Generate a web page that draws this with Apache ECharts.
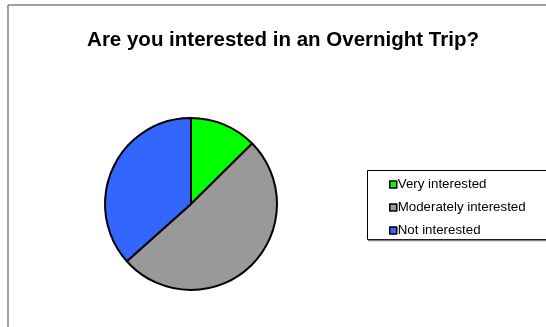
<!DOCTYPE html>
<html>
<head>
<meta charset="utf-8">
<script src="https://cdn.jsdelivr.net/npm/echarts@6/dist/echarts.min.js"></script>
<style>html,body{margin:0;padding:0;background:#fff;}#c{width:546px;height:327px;}</style>
</head>
<body>
<div id="c"></div>
<script>
var titleText = 'Are you interested in an Overnight Trip?';
var categories = ['Very interested', 'Moderately interested', 'Not interested'];
var values = [12.6, 50.8, 36.6];
var colors = ['#00FF00', '#999999', '#3366FF'];

var chart = echarts.init(document.getElementById('c'), null, {renderer: 'canvas'});
var font = '"Liberation Sans", Arial, sans-serif';
chart.setOption({
  backgroundColor: '#ffffff',
  animation: false,
  graphic: [
    {type: 'line', shape: {x1: 8, y1: 5, x2: 560, y2: 5}, style: {stroke: '#808080', lineWidth: 1.5}, silent: true},
    {type: 'line', shape: {x1: 8, y1: 5, x2: 8, y2: 340}, style: {stroke: '#808080', lineWidth: 1.5}, silent: true},
    {type: 'rect', shape: {x: 367.5, y: 170.5, width: 200, height: 69}, style: {fill: '#fff', stroke: '#000', lineWidth: 1}, z: -1, silent: true},
    {type: 'line', shape: {x1: 368, y1: 240.5, x2: 560, y2: 240.5}, style: {stroke: '#808080', lineWidth: 1.5}, z: -1, silent: true},
    {type: 'text', x: 283, y: 40, style: {text: titleText, font: 'bold 20.5px ' + font, fill: '#000', align: 'center', verticalAlign: 'middle'}, silent: true}
  ],
  legend: {
    orient: 'vertical',
    left: 384,
    top: 172,
    icon: 'rect',
    itemWidth: 7,
    itemHeight: 7,
    itemGap: 8,
    selectedMode: false,
    data: categories,
    itemStyle: {borderColor: '#000', borderWidth: 1.5},
    textStyle: {fontFamily: font, fontSize: 13.3, color: '#000', lineHeight: 15, padding: [0, 0, 0, -4]}
  },
  series: [{
    type: 'pie',
    center: [191, 204],
    radius: 86,
    startAngle: 90,
    clockwise: true,
    label: {show: false},
    labelLine: {show: false},
    emphasis: {disabled: true},
    itemStyle: {borderColor: '#000', borderWidth: 2},
    data: categories.map(function (n, i) { return {name: n, value: values[i], itemStyle: {color: colors[i]}}; })
  }]
});
</script>
</body>
</html>
